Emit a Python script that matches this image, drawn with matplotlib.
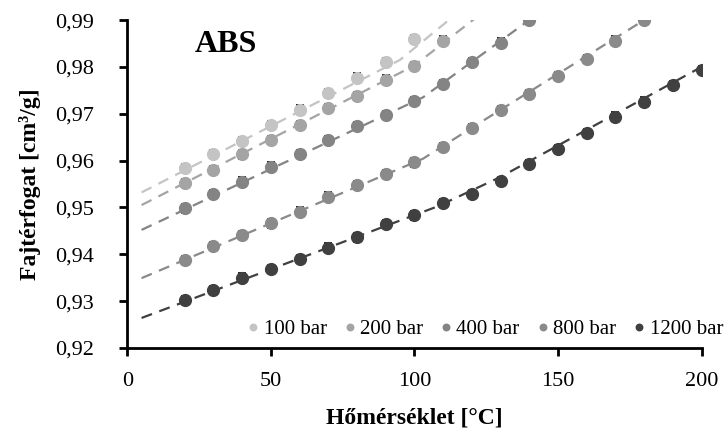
import numpy as np
import matplotlib.pyplot as plt
from matplotlib.ticker import FuncFormatter

plt.rcParams['font.family'] = ['Liberation Serif', 'DejaVu Serif']

# measured points (temperature, specific volume)
t100 = [20, 30, 40, 50, 60, 70, 80, 90, 100]
v100 = [0.9584, 0.9614, 0.9642, 0.9676, 0.9709, 0.9744, 0.9777, 0.9811, 0.9860]
t200 = [20, 30, 40, 50, 60, 70, 80, 90, 100, 110]
v200 = [0.9552, 0.9580, 0.9613, 0.9644, 0.9676, 0.9712, 0.9738, 0.9773, 0.9802, 0.9856]
t400 = [20, 30, 40, 50, 60, 70, 80, 90, 100, 110, 120, 130, 140]
v400 = [0.9498, 0.9529, 0.9555, 0.9587, 0.9614, 0.9644, 0.9674, 0.9697, 0.9727,
        0.9763, 0.9811, 0.9852, 0.9900]
t800 = [20, 30, 40, 50, 60, 70, 80, 90, 100, 110, 120, 130, 140, 150, 160, 170, 180]
v800 = [0.9388, 0.9418, 0.9441, 0.9466, 0.9491, 0.9523, 0.9548, 0.9571, 0.9596,
        0.9629, 0.9670, 0.9708, 0.9742, 0.9780, 0.9817, 0.9856, 0.9900]
t1200 = [20, 30, 40, 50, 60, 70, 80, 90, 100, 110, 120, 130, 140, 150, 160, 170, 180, 190, 200]
v1200 = [0.9302, 0.9324, 0.9350, 0.9369, 0.9390, 0.9414, 0.9436, 0.9465, 0.9483,
         0.9510, 0.9529, 0.9556, 0.9593, 0.9625, 0.9659, 0.9694, 0.9726, 0.9761, 0.9793]

# fitted curves (knots)
ft100 = [5, 95, 113]
fv100 = [0.9532, 0.9815, 0.9905]
ft200 = [5, 100, 121]
fv200 = [0.9505, 0.9803, 0.9903]
ft400 = [5, 103, 140]
fv400 = [0.9452, 0.9735, 0.9900]
ft800 = [5, 103, 120, 180]
fv800 = [0.9349, 0.9604, 0.9670, 0.9900]
ft1200 = [5, 108, 130, 200]
fv1200 = [0.9264, 0.9502, 0.9565, 0.9800]

labels = ['100 bar', '200 bar', '400 bar', '800 bar', '1200 bar']
colors = ['#c4c4c4', '#a4a4a4', '#848484', '#8a8a8a', '#404040']
err = 0.0009

fig = plt.figure(figsize=(7.27, 4.36), dpi=100)
ax = fig.add_axes([0.175, 0.202, 0.79, 0.752])

pts = [(t100, v100), (t200, v200), (t400, v400), (t800, v800), (t1200, v1200)]
fits = [(ft100, fv100), (ft200, fv200), (ft400, fv400), (ft800, fv800), (ft1200, fv1200)]

for (t, v), (ft, fv), lab, c in zip(pts, fits, labels, colors):
    ax.errorbar(t, v, yerr=err, fmt='none', ecolor='black', elinewidth=0.6,
                capsize=3, capthick=1.2, zorder=2)
    ax.plot(t, v, 'o', color=c, markersize=8.5, label=lab, zorder=3)
    ax.plot(ft, fv, '--', color=c, linewidth=1.6, dashes=(5, 3.5), zorder=4)

ax.set_xlim(0, 200)
ax.set_ylim(0.92, 0.99)
ax.set_xticks(np.arange(0, 201, 50))
ax.set_yticks(np.arange(0.92, 0.9901, 0.01))
ax.yaxis.set_major_formatter(FuncFormatter(lambda y, p: f'{y:.2f}'.replace('.', ',')))
ax.xaxis.set_major_formatter(FuncFormatter(lambda x, p: f'{x:.0f}'))
ax.tick_params(labelsize=16, width=2, length=6, direction='out')
ax.tick_params(axis='y', pad=18)
ax.tick_params(axis='x', pad=11)
for s in ['top', 'right']:
    ax.spines[s].set_visible(False)
for s in ['left', 'bottom']:
    ax.spines[s].set_linewidth(2)

ax.set_xlabel('Hőmérséklet [°C]', fontsize=17, fontweight='bold', labelpad=12)
ax.set_ylabel('Fajtérfogat [cm³/g]', fontsize=17, fontweight='bold', labelpad=10)
ax.text(0.172, 0.925, 'ABS', transform=ax.transAxes, fontsize=23,
        fontweight='bold', ha='center', va='center')

ax.legend(loc='lower right', bbox_to_anchor=(1.07, -0.03), ncol=5, frameon=False,
          fontsize=15, markerscale=0.55, handletextpad=0.0, columnspacing=0.6,
          handlelength=1.0)

fig.savefig('out.png', dpi=100)
